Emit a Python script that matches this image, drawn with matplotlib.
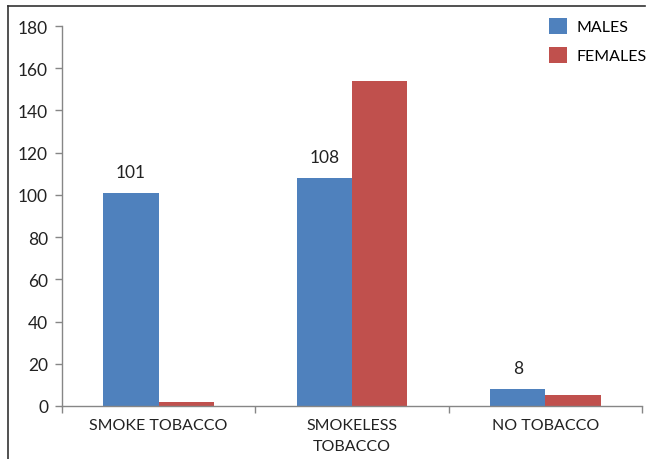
import matplotlib.pyplot as plt
import numpy as np
from matplotlib.lines import Line2D

categories = ['SMOKE TOBACCO', 'SMOKELESS\nTOBACCO', 'NO TOBACCO']
males = [101, 108, 8]
females = [2, 154, 5]

plt.rcParams['font.family'] = ['Lato', 'DejaVu Sans']
plt.rcParams['font.size'] = 11.5

blue = '#4F81BD'
red = '#C0504D'
grey = '#868686'

fig = plt.figure(figsize=(6.49, 4.60), dpi=100)
ax = fig.add_axes([62 / 649, 53 / 460, 580 / 649, 380 / 460])

x = np.arange(len(categories)) + 0.5
w = 1 / 3.5
ax.bar(x - w / 2, males, width=w, color=blue, label='MALES')
ax.bar(x + w / 2, females, width=w, color=red, label='FEMALES')

for xi, v in zip(x, males):
    ax.text(xi - w / 2, v + 6, str(v), ha='center', va='bottom', color='#222222',
            fontsize=12.5)

ax.set_xlim(0, 3)
ax.set_ylim(0, 180)
ax.set_yticks(range(0, 181, 20))
ax.set_xticks(x)
ax.set_xticklabels(categories, linespacing=1.6)
ax.set_xticks([0, 1, 2, 3], minor=True)
ax.tick_params(axis='x', which='major', length=0, pad=9, colors='#222222')
ax.tick_params(axis='x', which='minor', length=5, color=grey, width=1)
ax.tick_params(axis='y', length=5, color=grey, width=1, pad=5, labelcolor='#222222',
               labelsize=12.5)

for s in ['top', 'right']:
    ax.spines[s].set_visible(False)
for s in ['left', 'bottom']:
    ax.spines[s].set_color(grey)
    ax.spines[s].set_linewidth(1)

ax.legend(loc='upper left', bbox_to_anchor=(541 / 649, 1 - 11 / 460),
          bbox_transform=fig.transFigure, frameon=False,
          handlelength=1.15, handleheight=1.15, handletextpad=0.6,
          labelspacing=0.8, borderpad=0)

# outer frame: left and top edges
fig.add_artist(Line2D([8 / 649, 8 / 649], [0, 1 - 7 / 460], transform=fig.transFigure,
                      color='#333333', linewidth=1.2))
fig.add_artist(Line2D([8 / 649, 645 / 649], [1 - 7 / 460, 1 - 7 / 460], transform=fig.transFigure,
                      color='#333333', linewidth=1.2))

fig.savefig('out.png', dpi=100)
